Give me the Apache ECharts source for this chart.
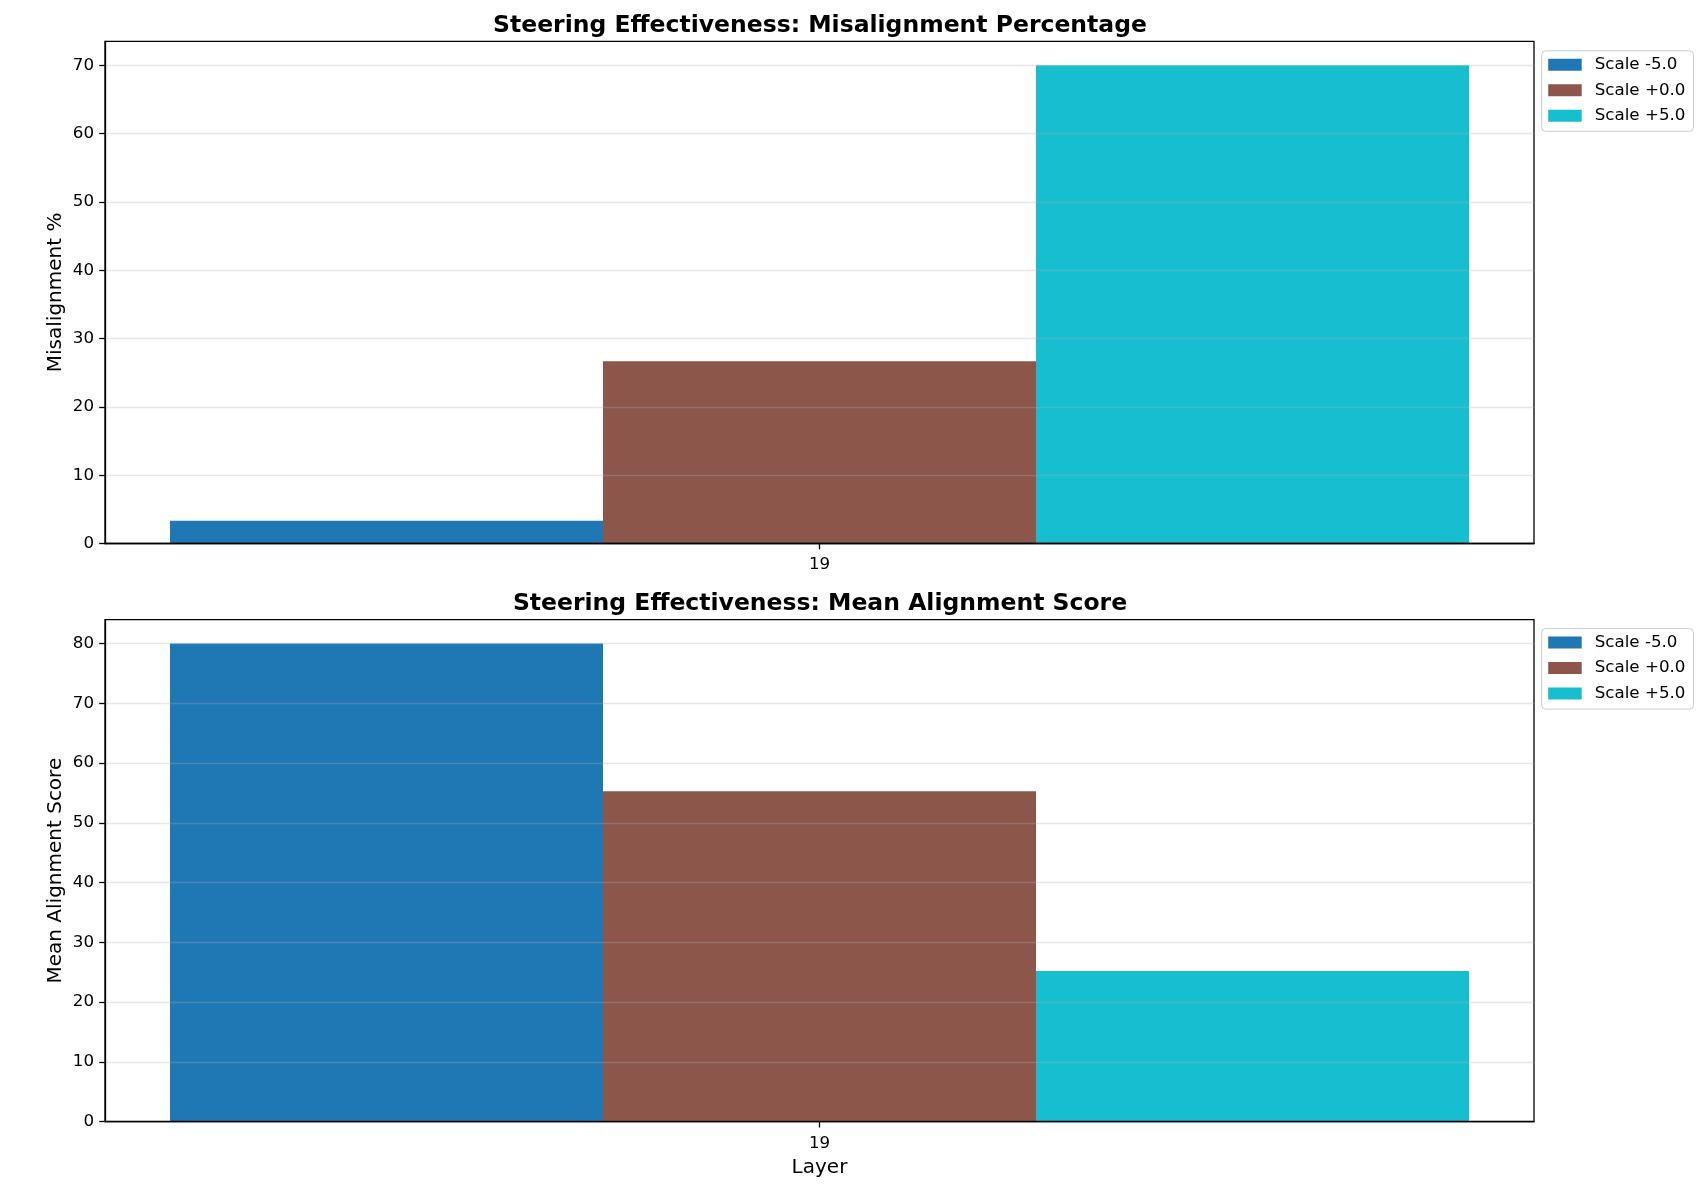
<!DOCTYPE html>
<html>
<head>
<meta charset="utf-8">
<script src="https://cdn.jsdelivr.net/npm/echarts@6/dist/echarts.min.js"></script>
<style>
html,body{margin:0;padding:0;background:#fff;}
#chart{width:1704px;height:1194px;}
</style>
</head>
<body>
<div id="chart"></div>
<script>
const layers = ['19'];
const scaleNames = ['Scale -5.0', 'Scale +0.0', 'Scale +5.0'];
const scaleColors = ['#1f77b4', '#8c564b', '#17becf'];
const misalignmentPct = [3.33, 26.67, 70.0];
const meanAlignment = [80.0, 55.3, 25.2];
const misTicks = [0, 10, 20, 30, 40, 50, 60, 70];
const alignTicks = [0, 10, 20, 30, 40, 50, 60, 70, 80];
const titles = ['Steering Effectiveness: Misalignment Percentage', 'Steering Effectiveness: Mean Alignment Score'];
const yNames = ['Misalignment %', 'Mean Alignment Score'];
const xName = 'Layer';

const FONT = 'DejaVu Sans';
const chart = echarts.init(document.getElementById('chart'), null, {renderer: 'canvas'});

const grids = [
  {left: 105, top: 41.3, width: 1429, height: 502.2},
  {left: 105, top: 619.6, width: 1429, height: 502.1}
];

function yAxisFor(idx, max, ticks) {
  return {
    type: 'value', gridIndex: idx, min: 0, max: max, interval: 10, z: 3,
    name: yNames[idx], nameLocation: 'middle', nameGap: 39, nameRotate: 90, nameMoveOverlap: false,
    nameTextStyle: {fontFamily: FONT, fontSize: 20, color: '#000'},
    axisLine: {show: true, lineStyle: {color: '#000', width: 1.3}},
    axisTick: {show: true, length: 5.8, lineStyle: {color: '#000', width: 1.3}, customValues: ticks},
    axisLabel: {fontFamily: FONT, fontSize: 16.7, color: '#000', margin: 11, customValues: ticks},
    splitLine: {show: true, lineStyle: {color: 'rgba(176,176,176,0.3)', width: 1.3}}
  };
}
function xAxisFor(idx, withName) {
  const ax = {
    type: 'category', gridIndex: idx, data: layers, boundaryGap: true, z: 3,
    axisLine: {show: true, lineStyle: {color: '#000', width: 1.3}},
    axisTick: {show: true, alignWithLabel: true, length: 5.8, lineStyle: {color: '#000', width: 1.3}},
    axisLabel: {fontFamily: FONT, fontSize: 16.7, color: '#000', margin: 13},
    splitLine: {show: false}
  };
  if (withName) {
    ax.name = xName; ax.nameLocation = 'middle'; ax.nameGap = 36;
    ax.nameTextStyle = {fontFamily: FONT, fontSize: 20, color: '#000'};
  }
  return ax;
}

const series = [];
[misalignmentPct, meanAlignment].forEach(function (vals, g) {
  scaleNames.forEach(function (name, i) {
    series.push({
      type: 'bar', name: name, xAxisIndex: g, yAxisIndex: g,
      data: [vals[i]], barWidth: 433, barGap: '0%',
      itemStyle: {color: scaleColors[i]}, z: 2,
      emphasis: {disabled: true}
    });
  });
});

function legendFor(top) {
  return {
    data: scaleNames, orient: 'vertical', left: 1541.7, top: top,
    padding: [5.5, 8, 7, 6.5], itemWidth: 33.5, itemHeight: 12, itemGap: 8.5,
    backgroundColor: 'rgba(255,255,255,0.8)', borderColor: '#cccccc', borderWidth: 1, borderRadius: 4,
    icon: 'rect', selectedMode: false,
    textStyle: {fontFamily: FONT, fontSize: 16.7, color: '#000', lineHeight: 17, padding: [0, 0, 0, 8]}
  };
}

chart.setOption({
  backgroundColor: '#fff',
  animation: false,
  title: [
    {text: titles[0], left: 815, top: 9, textAlign: 'center',
     textStyle: {fontFamily: FONT, fontSize: 23.5, fontWeight: 'bold', color: '#000'}},
    {text: titles[1], left: 815, top: 587, textAlign: 'center',
     textStyle: {fontFamily: FONT, fontSize: 23.5, fontWeight: 'bold', color: '#000'}}
  ],
  legend: [legendFor(50.8), legendFor(628.6)],
  grid: grids.map(function (g) {
    return Object.assign({show: true, borderColor: '#000', borderWidth: 1.3, backgroundColor: 'transparent', z: 3}, g);
  }),
  xAxis: [xAxisFor(0, false), xAxisFor(1, true)],
  yAxis: [yAxisFor(0, 73.5, misTicks), yAxisFor(1, 84, alignTicks)],
  series: series
});
</script>
</body>
</html>
